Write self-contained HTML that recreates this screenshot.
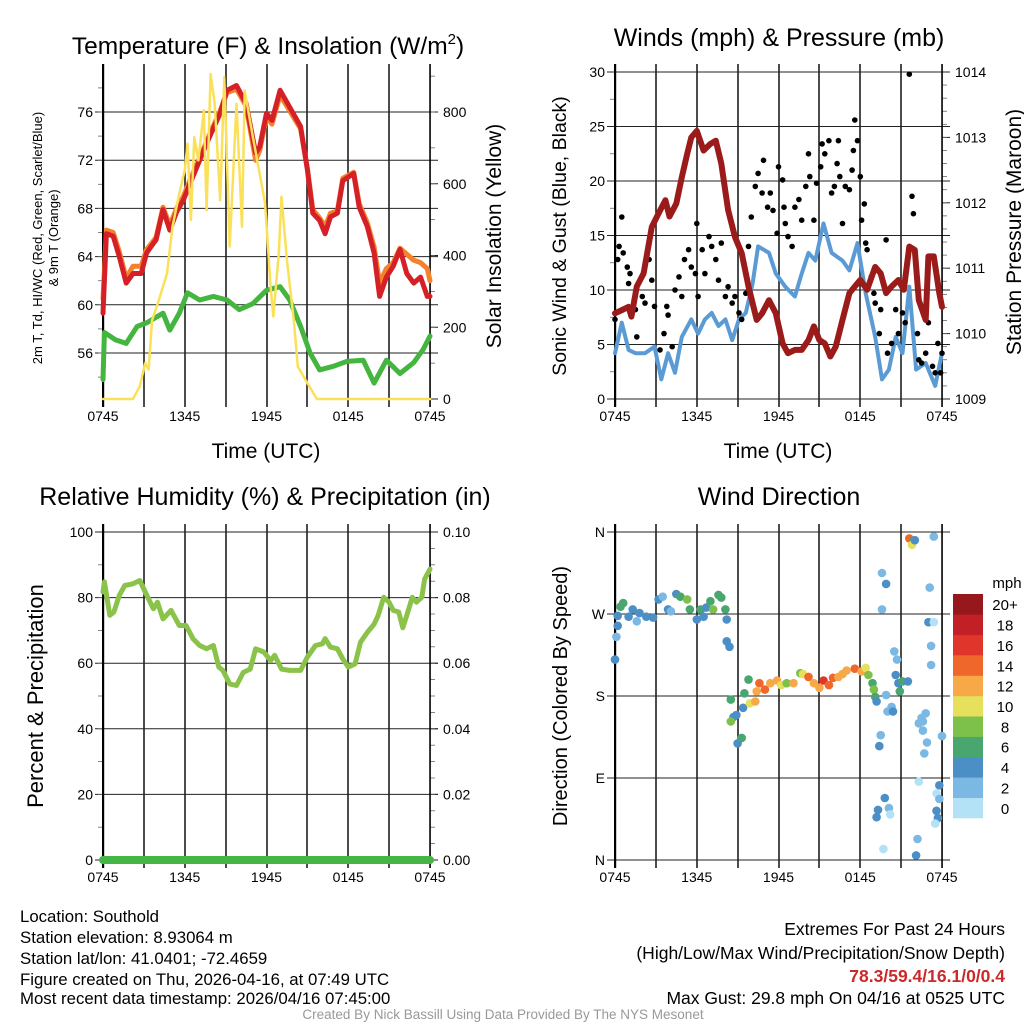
<!DOCTYPE html>
<html><head><meta charset="utf-8"><style>
html,body{margin:0;padding:0;background:#fff;}
svg{display:block;font-family:"Liberation Sans",sans-serif;}
</style></head><body>
<svg id="chart" xmlns="http://www.w3.org/2000/svg" width="1024" height="1024" viewBox="0 0 1024 1024">
<rect x="0" y="0" width="1024" height="1024" fill="#fff"/>
<g id="layer"></g>
<g font-size="16.8" fill="#000">
<text x="20" y="922">Location: Southold</text>
<text x="20" y="943">Station elevation: 8.93064 m</text>
<text x="20" y="964">Station lat/lon: 41.0401; -72.4659</text>
<text x="20" y="985">Figure created on Thu, 2026-04-16, at 07:49 UTC</text>
<text x="20" y="1004">Most recent data timestamp: 2026/04/16 07:45:00</text>
</g>
<g font-size="17.5" text-anchor="end">
<text x="1005" y="935">Extremes For Past 24 Hours</text>
<text x="1005" y="959">(High/Low/Max Wind/Precipitation/Snow Depth)</text>
<text x="1005" y="982" fill="#cc2a2a" font-weight="bold">78.3/59.4/16.1/0/0.4</text>
<text x="1005" y="1004">Max Gust: 29.8 mph On 04/16 at 0525 UTC</text>
</g>
<text x="503" y="1019" font-size="13.5" fill="#999" text-anchor="middle">Created By Nick Bassill Using Data Provided By The NYS Mesonet</text>
</svg>
<script>
// ---------- data (time in hours since 0745 UTC) ----------
const tempTimes = [0,0.25,0.75,1.2,1.7,2.2,2.8,3.2,3.7,3.9,4.4,4.9,5.4,5.9,6.4,7.1,7.8,8.6,9.1,9.8,10.5,11.2,11.5,12.0,12.4,13.0,13.7,14.5,15.0,15.4,15.9,16.3,16.7,17.2,17.6,18.4,18.8,19.4,19.9,20.3,20.8,21.3,21.8,22.3,22.8,23.3,23.8,24];
const tempRed = [59.3,65.9,65.7,64.0,61.8,62.6,62.6,64.3,65.1,65.4,67.9,66.2,67.7,68.7,70.1,72.0,73.9,75.9,77.8,78.2,76.7,72.6,73.1,75.9,75.3,77.8,76.4,74.8,71.2,67.6,67.0,65.9,67.3,67.6,70.3,70.9,68.1,66.5,64.3,60.7,62.3,63.2,64.6,62.6,61.8,62.3,60.7,60.7];
const tempOrange = [60.5,66.2,66.0,64.4,62.2,63.2,63.2,64.6,65.3,65.6,68.1,66.6,68.0,69.0,70.4,72.2,74.1,76.1,77.6,77.9,76.5,72.0,72.8,75.6,75.0,77.4,76.1,74.6,71.3,67.9,67.2,66.5,67.6,67.8,70.5,71.0,68.4,66.8,64.8,61.8,63.0,63.5,64.7,64.2,63.7,63.5,63.0,62.0];
const dewTimes = [0,0.1,0.9,1.7,2.5,3.2,4.4,4.9,5.6,6.2,7.1,8.1,9.1,10,11,12,13,13.7,14.5,15.2,15.9,16.9,17.9,19.1,19.9,20.8,21.8,22.8,23.5,24];
const dewGreen = [53.8,57.7,57.1,56.8,58.2,58.5,59.3,57.9,59.3,61.0,60.4,60.7,60.4,59.6,60.1,61.2,61.5,60.4,58.2,56.0,54.6,54.9,55.3,55.4,53.5,55.4,54.3,55.2,56.3,57.4];
const solarTimes = [0,2.2,2.7,3.1,3.35,3.6,4.1,4.7,5.1,5.6,6.0,6.2,6.45,6.7,7.0,7.4,7.6,7.9,8.2,8.6,8.9,9.3,9.8,10.2,10.4,11.0,11.5,11.9,12.3,12.5,12.9,13.1,13.5,14.0,14.3,15.0,15.7,24];
const solarValues = [0,0,35,100,82,220,276,350,480,573,638,712,499,730,665,805,526,906,823,554,897,425,823,480,860,730,628,545,313,230,406,564,387,220,91,44,0,0];

const windTimes = [0,0.5,1.0,1.5,2.2,2.9,3.4,3.9,4.4,4.9,5.6,6.1,6.6,7.1,7.6,8.1,8.6,9.1,9.6,10.1,10.5,11.3,11.8,12.5,13.2,13.7,14.2,14.7,15.3,15.9,16.7,17.2,17.8,18.4,19.1,19.6,20.1,20.6,21.1,21.6,22.1,22.8,23.5,24];
const windSpeed = [4.2,7.0,4.5,4.2,4.2,4.8,1.8,4.2,2.4,5.7,7.3,6.0,7.3,7.9,6.7,7.3,5.4,7.3,7.9,10.6,14.0,13.4,11.5,10.3,9.4,11.5,13.4,12.7,16.1,13.4,12.7,11.8,14.3,9.7,5.7,1.8,2.7,5.7,4.2,10.3,2.7,3.3,1.2,4.2];
const gustTimes = [0,0.2,0.3,0.5,0.6,0.9,1.0,1.1,1.5,1.6,2.0,2.2,2.5,2.7,2.9,3.3,3.6,3.8,3.9,4.2,4.4,4.7,4.9,5.1,5.4,5.6,5.9,6.0,6.1,6.4,6.6,6.9,7.1,7.4,7.6,7.8,8.1,8.3,8.6,8.8,9.1,9.3,9.6,9.8,10.0,10.3,10.5,10.8,10.9,11.2,11.4,11.6,11.9,12.0,12.3,12.4,12.5,12.7,13.0,13.2,13.5,13.7,14.0,14.2,14.3,14.6,14.8,15.1,15.2,15.4,15.7,15.9,16.1,16.3,16.4,16.5,16.7,16.9,17.2,17.4,17.5,17.6,17.8,18.0,18.1,18.3,18.4,18.5,18.8,19.0,19.1,19.4,19.5,19.9,20.0,20.3,20.6,20.8,21.1,21.3,21.6,21.8,21.9,22.2,22.3,22.5,22.8,23.0,23.3,23.5,23.7,23.9,24];
const gustSpeed = [7.3,12.8,14.0,16.7,13.4,12.1,10.6,11.5,8.2,5.7,9.4,8.8,12.8,10.9,8.5,4.5,6.0,8.5,7.7,4.8,10.0,11.2,9.4,12.8,13.7,12.1,11.5,16.1,9.4,13.7,11.5,14.9,14.0,12.8,10.9,14.3,9.4,10.3,8.8,9.4,7.9,7.3,9.7,14.0,16.7,19.5,20.7,18.9,21.9,17.6,18.9,17.3,15.2,21.3,20.1,17.6,16.1,14.9,14.0,17.6,18.3,16.4,19.5,22.5,20.4,16.4,19.8,21.3,23.4,22.5,23.7,18.9,19.5,21.6,23.7,20.4,16.1,19.5,19.2,21.0,22.8,25.6,23.7,20.4,16.4,17.9,14.3,13.7,11.2,9.7,8.8,6.0,8.2,14.6,4.2,5.1,8.2,6.0,7.9,7.0,29.8,18.6,17.0,6.0,3.6,3.3,4.2,7.0,3.0,2.4,5.1,2.4,4.2];
const pressTimes = [0,0.5,1.0,1.2,1.6,2.1,2.7,3.2,3.7,4.0,4.5,4.9,5.3,5.6,6.0,6.5,7.0,7.4,7.8,8.3,8.8,9.3,9.8,10.4,10.8,11.3,11.8,12.3,12.7,13.2,13.7,14.2,14.6,15.0,15.4,15.8,16.2,16.7,17.2,17.6,18.0,18.5,19.1,19.5,19.9,20.3,20.8,21.2,21.6,22.0,22.3,22.8,23.0,23.4,23.8,24];
const pressValues = [1010.31,1010.36,1010.41,1010.26,1010.72,1010.92,1011.63,1011.84,1012.04,1011.79,1011.99,1012.39,1012.75,1013.0,1013.1,1012.8,1012.9,1012.95,1012.6,1011.89,1011.48,1011.23,1010.72,1010.21,1010.31,1010.51,1010.31,1009.85,1009.7,1009.75,1009.75,1009.9,1010.11,1009.9,1009.85,1009.65,1009.8,1010.21,1010.62,1010.72,1010.82,1010.67,1011.02,1010.92,1010.62,1010.72,1010.82,1010.67,1011.33,1011.28,1010.51,1010.21,1011.18,1011.18,1010.62,1010.41];

const rhTimes = [0,0.1,0.5,0.8,1.2,1.6,2.2,2.7,3.1,3.7,4.0,4.4,5.0,5.6,6.1,6.6,7.1,7.6,8.1,8.5,8.8,9.3,9.8,10.3,10.8,11.2,11.8,12.3,12.6,13.1,13.7,14.5,15.0,15.6,16.1,16.3,16.7,17.2,17.6,18.0,18.5,18.9,19.4,19.9,20.2,20.6,21.0,21.3,21.7,22.0,22.3,22.7,23.0,23.4,23.6,24];
const rhValues = [81.7,84.8,74.6,75.6,80.7,83.7,84.2,85.2,81.7,76.6,78.6,73.5,76.1,71.5,71.5,67.5,65.4,64.4,65.4,58.8,57.8,53.7,53.2,57.2,58.2,64.4,63.4,60.8,62.4,58.2,57.8,57.8,61.9,65.4,65.9,67.5,64.9,64.4,61.3,58.8,59.8,66.4,69.4,71.9,74.6,80.1,78.6,76.1,75.6,70.8,74.6,80.1,78.6,80.1,85.6,88.7];
const precipTimes = [0,24];
const precipValues = [0,0];

const dirTimes = [0,0.1,0.2,0.2,0.4,0.6,1.0,1.3,1.6,1.8,2.3,2.8,3.2,3.5,3.9,4.1,4.5,4.8,5.3,5.5,6.0,6.3,6.5,6.7,7.0,7.2,7.6,7.8,8.1,8.2,8.2,8.4,8.5,8.7,8.5,8.9,9.0,9.3,9.4,9.5,9.8,9.9,10.3,10.4,10.6,11.0,11.4,11.9,12.2,12.6,13.1,13.6,13.8,14.2,14.6,15.0,15.3,15.7,16.0,16.4,16.7,17.0,17.6,18.1,18.4,18.6,18.9,19.0,19.1,19.2,19.5,19.4,19.6,19.6,19.9,19.9,20.0,20.3,20.4,20.5,20.7,20.6,20.8,20.9,21.1,21.5,19.8,19.3,19.2,20.1,20.2,19.7,21.6,21.9,21.8,22.0,22.1,22.2,22.3,22.3,22.6,22.5,22.8,22.6,22.9,22.7,23.0,23.4,23.1,23.2,23.2,23.4,24.0,23.8,23.6,23.8,23.6,23.7,23.5];
const dirDegrees = [220,245,257,268,278,282,267,275,262,271,267,266,286,289,275,273,292,289,286,275,264,275,267,277,284,275,291,288,275,264,240,234,176,157,152,159,128,134,167,183,198,172,174,185,194,187,194,197,192,194,194,205,204,201,194,189,197,192,200,201,204,208,210,207,211,203,194,187,179,174,137,125,275,315,303,181,163,168,163,229,220,203,194,185,196,196,68,55,47,57,50,12,353,350,346,351,5,23,86,150,152,156,161,142,129,117,261,261,299,235,214,355,136,82,73,67,54,46,40];
const dirSpeeds = [4,2,4,4,6,6,4,4,2,4,4,4,4,2,4,2,4,6,8,6,4,6,4,4,6,8,6,6,6,4,4,4,6,4,8,4,4,6,4,6,6,10,12,12,14,14,12,12,10,8,12,8,10,14,12,12,16,14,14,12,12,12,14,12,10,8,6,8,6,4,2,4,2,2,4,2,2,2,4,2,2,4,4,6,6,4,4,4,4,2,0,0,14,6,10,4,4,2,0,2,2,2,2,2,2,2,4,0,2,2,2,2,2,4,0,2,4,4,0];
const speedBins = ['0','2','4','6','8','10','12','14','16','18','20+'];
const binColors = ['#b3e2f7','#7bb9e4','#4b8fc6','#4aa66f','#7dc04a','#e7e05c','#f7a847','#f0672b','#e0352a','#c21f27','#96181d'];

// ---------- helpers ----------
const NS='http://www.w3.org/2000/svg';
const layer=document.getElementById('layer');
function mk(tag,attrs,parent,name,inter){
  const el=document.createElementNS(NS,tag);
  for(const k in attrs) el.setAttribute(k,attrs[k]);
  
  
  (parent||layer).appendChild(el);
  return el;
}
function txt(x,y,s,attrs,parent,name){
  const el=mk('text',Object.assign({x:x,y:y},attrs||{}),parent,name,false);
  el.textContent=s; return el;
}
function lin(d0,d1,p0,p1){return v=>p0+(v-d0)*(p1-p0)/(d1-d0);}
const timeLabels=['0745','1345','1945','0145','0745'];

function panel(opt){
  const g=mk('g',{},layer,opt.name,false);
  const L=opt.x0,R=opt.x1,T=opt.y0,B=opt.y1;
  const xs=lin(0,24,L,R);
  for(let i=1;i<8;i++){
    const x=Math.round(xs(i*3));
    mk('rect',{x:x-0.75,y:T-8,width:1.5,height:B-T+16,fill:'#111'},g,'x-gridline',false);
  }
  opt.yTicks.forEach(t=>{
    const y=opt.ys(t);
    mk('line',{x1:L-8,y1:y,x2:R+8,y2:y,stroke:'#222','stroke-width':1},g,'y-gridline',false);
    txt(L-10,y+5,opt.fmt?opt.fmt(t):String(t),{'font-size':14,'text-anchor':'end'},g,'y-tick-label');
  });
  if(opt.minorY) opt.minorY.forEach(t=>{const y=opt.ys(t);
    mk('line',{x1:L-5,y1:y,x2:L,y2:y,stroke:'#666','stroke-width':0.8},g,'y-minor-tick',false);});
  if(opt.rTicks){
    opt.rTicks.forEach(t=>{const y=opt.rs(t);
      mk('line',{x1:R,y1:y,x2:R+8,y2:y,stroke:'#222','stroke-width':1},g,'right-tick',false);
      txt(R+13,y+5,opt.rfmt(t),{'font-size':14},g,'right-tick-label');});
    if(opt.rMinor) opt.rMinor.forEach(t=>{const y=opt.rs(t);
      mk('line',{x1:R,y1:y,x2:R+5,y2:y,stroke:'#666','stroke-width':0.8},g,'right-minor-tick',false);});
  }
  mk('rect',{x:L-1,y:T-8,width:2.2,height:B-T+16,fill:'#000'},g,'left-axis',false);
  mk('rect',{x:R-0.75,y:T-8,width:1.6,height:B-T+16,fill:'#000'},g,'right-axis',false);
  timeLabels.forEach((s,i)=>txt(xs(i*6),B+22,s,{'font-size':14,'text-anchor':'middle'},g,'x-tick-label'));
  return {g,xs};
}
function path(g,ts,vs,xs,ys,color,w,name){
  let d='';
  ts.forEach((t,i)=>{d+=(i?'L':'M')+xs(t).toFixed(1)+','+ys(vs[i]).toFixed(1);});
  return mk('path',{d:d,fill:'none',stroke:color,'stroke-width':w,'stroke-linejoin':'round','stroke-linecap':'round'},g,name,false);
}
function rng(a,b,s){const r=[];for(let v=a;v<=b+1e-9;v+=s)r.push(+v.toFixed(4));return r;}

// ---------- panel 1: temperature ----------
{
  const ys=lin(56,76,353,112), rs=lin(0,800,399,112);
  const p=panel({name:'temperature-panel',x0:103,x1:430,y0:72,y1:399,ys:ys,yTicks:[56,60,64,68,72,76],minorY:rng(54,78,2),rs:rs,rTicks:[0,200,400,600,800],rMinor:rng(100,900,100),rfmt:t=>String(t)});
  path(p.g,tempTimes,tempOrange,p.xs,ys,'#f4822d',5,'temp-9m-orange-line');
  path(p.g,tempTimes,tempRed,p.xs,ys,'#d42026',5,'temp-2m-red-line');
  path(p.g,dewTimes,dewGreen,p.xs,ys,'#44b53f',5,'dewpoint-green-line');
  path(p.g,solarTimes,solarValues,p.xs,rs,'#fbe05a',2.5,'solar-insolation-line');
  const t=txt(268,54,'Temperature (F) & Insolation (W/m',{'font-size':24.5,'text-anchor':'middle'},p.g,'chart-title-temperature');
  const sup=document.createElementNS(NS,'tspan');
  sup.setAttribute('dy','-10');sup.setAttribute('font-size','15');sup.textContent='2';
  const cl=document.createElementNS(NS,'tspan');
  cl.setAttribute('dy','10');cl.textContent=')';
  t.appendChild(sup);t.appendChild(cl);
  txt(266,458,'Time (UTC)',{'font-size':21,'text-anchor':'middle'},p.g,'x-axis-title');
  txt(0,0,'2m T, Td, HI/WC (Red, Green, Scarlet/Blue)',{'font-size':13,'text-anchor':'middle',transform:'translate(42,238) rotate(-90)'},p.g,'y-axis-title-line1');
  txt(0,0,'& 9m T (Orange)',{'font-size':13,'text-anchor':'middle',transform:'translate(58,238) rotate(-90)'},p.g,'y-axis-title-line2');
  txt(0,0,'Solar Insolation (Yellow)',{'font-size':21,'text-anchor':'middle',transform:'translate(501,236) rotate(-90)'},p.g,'right-axis-title');
}
// ---------- panel 2: winds ----------
{
  const ys=lin(0,30,399,72), rs=lin(1009,1014,399,72);
  const p=panel({name:'winds-panel',x0:615,x1:942,y0:72,y1:399,ys:ys,yTicks:[0,5,10,15,20,25,30],minorY:rng(2.5,27.5,5),rs:rs,rTicks:[1009,1010,1011,1012,1013,1014],rMinor:rng(1009.2,1013.8,0.2),rfmt:t=>String(t)});
  path(p.g,windTimes,windSpeed,p.xs,ys,'#5b9bd5',4,'sustained-wind-line');
  gustTimes.forEach((t,i)=>{
    mk('circle',{cx:p.xs(t).toFixed(1),cy:ys(gustSpeed[i]).toFixed(1),r:2.8,fill:'#000'},p.g,'gust-point',false);
  });
  path(p.g,pressTimes,pressValues,p.xs,rs,'#9b1b1b',6,'pressure-line');
  txt(779,46,'Winds (mph) & Pressure (mb)',{'font-size':25,'text-anchor':'middle'},p.g,'chart-title-winds');
  txt(778,458,'Time (UTC)',{'font-size':21,'text-anchor':'middle'},p.g,'x-axis-title');
  txt(0,0,'Sonic Wind & Gust (Blue, Black)',{'font-size':19.5,'text-anchor':'middle',transform:'translate(566,236) rotate(-90)'},p.g,'y-axis-title');
  txt(0,0,'Station Pressure (Maroon)',{'font-size':21,'text-anchor':'middle',transform:'translate(1021,232) rotate(-90)'},p.g,'right-axis-title');
}
// ---------- panel 3: RH ----------
{
  const ys=lin(0,100,860,532), rs=lin(0,0.1,860,532);
  const p=panel({name:'humidity-panel',x0:103,x1:430,y0:532,y1:860,ys:ys,yTicks:[0,20,40,60,80,100],minorY:rng(10,90,10),rs:rs,rTicks:[0,0.02,0.04,0.06,0.08,0.1],rMinor:rng(0.005,0.095,0.005),rfmt:t=>t.toFixed(2)});
  path(p.g,rhTimes,rhValues,p.xs,ys,'#8bc34a',5,'relative-humidity-line');
  path(p.g,precipTimes,precipValues,p.xs,rs,'#45b546',8,'precipitation-line');
  txt(265,505,'Relative Humidity (%) & Precipitation (in)',{'font-size':25,'text-anchor':'middle'},p.g,'chart-title-humidity');
  txt(0,0,'Percent & Precipitation',{'font-size':22,'text-anchor':'middle',transform:'translate(43,696) rotate(-90)'},p.g,'y-axis-title');
}
// ---------- panel 4: wind direction ----------
{
  const ys=lin(0,360,860,532);
  const labels={0:'N',90:'E',180:'S',270:'W',360:'N'};
  const p=panel({name:'wind-direction-panel',x0:615,x1:942,y0:532,y1:860,ys:ys,yTicks:[0,90,180,270,360],fmt:t=>labels[t]});
  dirTimes.forEach((t,i)=>{
    const b=Math.min(10,Math.max(0,Math.floor(dirSpeeds[i]/2)));
    mk('circle',{cx:p.xs(t).toFixed(1),cy:ys(dirDegrees[i]).toFixed(1),r:4.3,fill:binColors[b]},p.g,'wind-direction-point',false);
  });
  txt(779,505,'Wind Direction',{'font-size':25,'text-anchor':'middle'},p.g,'chart-title-direction');
  txt(0,0,'Direction (Colored By Speed)',{'font-size':20,'text-anchor':'middle',transform:'translate(567,696) rotate(-90)'},p.g,'y-axis-title');
  const lg=mk('g',{},p.g,'speed-legend',false);
  txt(1007,588,'mph',{'font-size':15,'text-anchor':'middle'},lg,'legend-title');
  const bh=(818-594)/speedBins.length;
  speedBins.forEach((s,i)=>{
    const y=818-(i+1)*bh;
    mk('rect',{x:953,y:y.toFixed(1),width:30,height:(bh+0.3).toFixed(1),fill:binColors[i]},lg,'legend-swatch',false);
    txt(1005,y+bh/2+6,s,{'font-size':15,'text-anchor':'middle'},lg,'legend-label');
  });
}
</script>
</body></html>
